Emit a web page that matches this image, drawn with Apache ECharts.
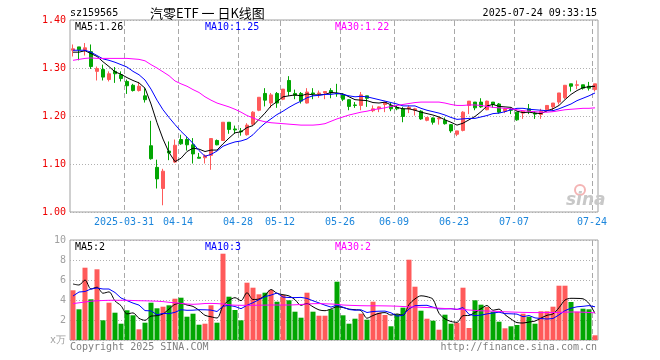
<!DOCTYPE html>
<html><head><meta charset="utf-8">
<script src="https://cdn.jsdelivr.net/npm/echarts@6/dist/echarts.min.js"></script>
<style>html,body{margin:0;padding:0;background:#fff}#c{width:660px;height:360px}</style>
</head><body><div id="c"></div>
<script>
const dates = ['2025-03-18','2025-03-19','2025-03-20','2025-03-21','2025-03-24','2025-03-25','2025-03-26','2025-03-27','2025-03-28','2025-03-31',
'2025-04-01','2025-04-02','2025-04-03','2025-04-07','2025-04-08','2025-04-09','2025-04-10','2025-04-11','2025-04-14','2025-04-15','2025-04-16','2025-04-17','2025-04-18','2025-04-21','2025-04-22','2025-04-23','2025-04-24','2025-04-25','2025-04-28','2025-04-29','2025-04-30',
'2025-05-06','2025-05-07','2025-05-08','2025-05-09','2025-05-12','2025-05-13','2025-05-14','2025-05-15','2025-05-16','2025-05-19','2025-05-20','2025-05-21','2025-05-22','2025-05-23','2025-05-26','2025-05-27','2025-05-28','2025-05-29','2025-05-30',
'2025-06-03','2025-06-04','2025-06-05','2025-06-06','2025-06-09','2025-06-10','2025-06-11','2025-06-12','2025-06-13','2025-06-16','2025-06-17','2025-06-18','2025-06-19','2025-06-20','2025-06-23','2025-06-24','2025-06-25','2025-06-26','2025-06-27','2025-06-30',
'2025-07-01','2025-07-02','2025-07-03','2025-07-04','2025-07-07','2025-07-08','2025-07-09','2025-07-10','2025-07-11','2025-07-14','2025-07-15','2025-07-16','2025-07-17','2025-07-18','2025-07-21','2025-07-22','2025-07-23','2025-07-24'];
const tickDates = ['2025-03-31','2025-04-14','2025-04-28','2025-05-12','2025-05-26','2025-06-09','2025-06-23','2025-07-07','2025-07-24'];
const tickLabels = ['2025-03-31','04-14','04-28','05-12','05-26','06-09','06-23','07-07','07-24'];

const open = [1.337,1.344,1.337,1.334,1.293,1.297,1.276,1.293,1.286,1.272,1.264,1.253,1.242,1.138,1.093,1.049,1.127,1.104,1.151,1.151,1.140,1.114,1.113,1.118,1.149,1.149,1.187,1.173,1.169,1.161,1.183,1.212,1.247,1.227,1.247,1.235,1.274,1.247,1.247,1.227,1.248,1.246,1.248,1.253,1.247,1.244,1.234,1.223,1.222,1.242,1.211,1.215,1.224,1.222,1.218,1.215,1.215,1.212,1.210,1.191,1.196,1.194,1.191,1.182,1.162,1.170,1.222,1.229,1.229,1.213,1.229,1.225,1.210,1.214,1.208,1.206,1.215,1.206,1.203,1.213,1.219,1.229,1.238,1.267,1.264,1.265,1.262,1.255];
const close = [1.340,1.338,1.342,1.303,1.299,1.281,1.288,1.288,1.278,1.263,1.253,1.262,1.234,1.111,1.069,1.085,1.123,1.139,1.142,1.140,1.121,1.112,1.117,1.153,1.140,1.187,1.172,1.171,1.167,1.181,1.208,1.239,1.233,1.244,1.227,1.256,1.251,1.243,1.231,1.250,1.246,1.248,1.251,1.248,1.246,1.235,1.220,1.222,1.244,1.237,1.215,1.219,1.228,1.215,1.215,1.199,1.218,1.215,1.194,1.197,1.187,1.196,1.184,1.169,1.169,1.208,1.231,1.217,1.219,1.231,1.224,1.208,1.215,1.212,1.192,1.210,1.210,1.204,1.210,1.222,1.227,1.248,1.264,1.262,1.265,1.258,1.258,1.267];
const low = [1.324,1.316,1.326,1.298,1.274,1.274,1.272,1.269,1.272,1.246,1.251,1.251,1.228,1.109,1.049,1.014,1.108,1.102,1.140,1.128,1.101,1.112,1.101,1.088,1.139,1.149,1.163,1.163,1.159,1.159,1.180,1.210,1.220,1.217,1.217,1.233,1.242,1.235,1.226,1.226,1.235,1.238,1.235,1.237,1.240,1.231,1.212,1.217,1.212,1.219,1.208,1.208,1.208,1.210,1.212,1.187,1.206,1.201,1.192,1.189,1.182,1.182,1.182,1.165,1.158,1.168,1.204,1.212,1.217,1.212,1.217,1.205,1.206,1.204,1.190,1.194,1.204,1.194,1.194,1.208,1.210,1.224,1.235,1.251,1.256,1.255,1.253,1.251];
const high = [1.349,1.344,1.352,1.349,1.303,1.307,1.293,1.302,1.293,1.276,1.267,1.271,1.258,1.190,1.109,1.090,1.147,1.151,1.161,1.156,1.154,1.123,1.120,1.154,1.151,1.187,1.187,1.180,1.175,1.185,1.210,1.239,1.258,1.248,1.250,1.256,1.283,1.255,1.250,1.258,1.258,1.253,1.251,1.258,1.267,1.247,1.235,1.229,1.250,1.242,1.222,1.220,1.228,1.227,1.222,1.219,1.222,1.217,1.212,1.197,1.197,1.198,1.197,1.183,1.169,1.210,1.231,1.229,1.237,1.232,1.229,1.227,1.217,1.217,1.208,1.211,1.225,1.210,1.215,1.222,1.227,1.248,1.264,1.267,1.274,1.265,1.271,1.267];

const ma5 = [1.333,1.333,1.336,1.330,1.324,1.313,1.303,1.292,1.287,1.280,1.274,1.269,1.258,1.225,1.186,1.152,1.124,1.105,1.112,1.126,1.133,1.131,1.126,1.129,1.129,1.142,1.154,1.165,1.167,1.176,1.180,1.193,1.206,1.221,1.230,1.240,1.242,1.244,1.242,1.246,1.244,1.244,1.245,1.249,1.248,1.246,1.240,1.234,1.233,1.232,1.228,1.227,1.229,1.223,1.218,1.215,1.215,1.212,1.208,1.205,1.202,1.198,1.192,1.187,1.181,1.185,1.192,1.199,1.209,1.221,1.224,1.220,1.219,1.218,1.210,1.207,1.208,1.206,1.205,1.211,1.215,1.222,1.234,1.245,1.253,1.259,1.261,1.262];
const ma10 = [1.337,1.337,1.337,1.333,1.326,1.319,1.316,1.312,1.307,1.302,1.293,1.286,1.275,1.256,1.233,1.213,1.197,1.182,1.168,1.156,1.143,1.128,1.116,1.120,1.127,1.137,1.142,1.146,1.148,1.152,1.161,1.174,1.185,1.194,1.203,1.210,1.218,1.225,1.231,1.238,1.242,1.243,1.245,1.245,1.247,1.245,1.242,1.240,1.241,1.240,1.237,1.234,1.231,1.228,1.225,1.221,1.221,1.221,1.216,1.212,1.209,1.206,1.202,1.197,1.193,1.194,1.195,1.195,1.198,1.201,1.205,1.206,1.209,1.213,1.216,1.216,1.214,1.213,1.212,1.211,1.211,1.215,1.220,1.225,1.232,1.237,1.242,1.248];
const ma30 = [1.316,1.318,1.320,1.321,1.320,1.320,1.320,1.320,1.320,1.320,1.319,1.318,1.315,1.307,1.300,1.292,1.284,1.273,1.267,1.262,1.255,1.249,1.240,1.233,1.227,1.223,1.219,1.214,1.208,1.201,1.196,1.191,1.188,1.186,1.185,1.184,1.183,1.182,1.181,1.181,1.181,1.182,1.184,1.189,1.194,1.198,1.202,1.205,1.208,1.210,1.213,1.215,1.217,1.220,1.222,1.224,1.226,1.228,1.229,1.229,1.229,1.229,1.227,1.224,1.222,1.222,1.223,1.223,1.222,1.220,1.218,1.217,1.216,1.215,1.213,1.211,1.210,1.209,1.208,1.208,1.209,1.211,1.213,1.214,1.215,1.216,1.216,1.217];

const volume = [4.97,3.07,7.23,4.07,7.07,1.97,3.73,2.73,1.63,2.97,2.47,1.07,1.73,3.73,3.17,3.33,3.47,4.13,4.23,2.33,2.63,1.53,1.63,3.47,1.73,8.63,4.33,3.00,1.97,5.73,5.23,4.57,4.73,5.00,3.83,4.50,3.97,2.83,2.23,4.73,2.83,2.43,2.43,3.07,5.83,2.47,1.63,2.13,2.63,2.03,3.83,2.73,2.50,1.37,2.57,3.23,8.03,5.33,2.93,2.13,1.93,1.03,2.53,1.63,1.73,5.23,1.20,3.97,3.53,3.30,2.83,1.83,1.17,1.37,1.50,2.63,2.33,1.63,2.87,2.87,3.33,5.43,5.43,3.80,2.83,3.13,3.07,0.47];
const volMa5 = [5.6,5.5,6.0,5.1,5.28,4.68,4.81,3.91,3.43,2.61,2.71,2.17,1.97,2.39,2.43,2.61,3.09,3.57,3.67,3.50,3.36,2.97,2.47,2.32,2.20,3.40,3.96,4.23,3.93,4.73,4.05,4.10,4.45,5.05,4.67,4.53,4.41,4.03,3.47,3.65,3.32,3.01,2.93,3.10,3.32,3.25,3.09,3.03,2.94,2.18,2.45,2.67,2.74,2.49,2.60,2.48,3.54,4.11,4.42,4.33,4.07,2.67,2.11,1.85,1.77,2.43,2.46,2.75,3.13,3.45,2.97,3.09,2.53,2.10,1.74,1.70,1.80,1.89,2.19,2.47,2.61,3.23,3.99,4.17,4.16,4.12,3.65,2.66];
const volMa10 = [4.4,4.8,4.85,5.1,5.2,5.1,5.1,4.75,4.2,3.94,3.69,3.49,2.94,2.91,2.52,2.66,2.63,2.77,3.03,2.97,2.98,3.03,3.02,2.99,2.85,3.38,3.46,3.35,3.13,3.47,3.73,4.03,4.34,4.49,4.70,4.29,4.25,4.24,4.26,4.16,3.92,3.71,3.48,3.29,3.49,3.28,3.05,2.98,3.02,2.75,2.85,2.88,2.89,2.72,2.39,2.47,3.11,3.43,3.46,3.47,3.28,3.11,3.11,3.13,3.05,3.25,2.57,2.43,2.49,2.61,2.70,2.78,2.64,2.62,2.59,2.33,2.45,2.21,2.15,2.10,2.15,2.51,2.94,3.18,3.32,3.37,3.44,3.32];
const volMa30 = [3.64,3.72,3.80,3.88,3.92,3.95,3.97,3.97,3.97,3.97,3.95,3.93,3.92,3.90,3.88,3.84,3.77,3.72,3.67,3.60,3.57,3.60,3.65,3.66,3.64,3.60,3.52,3.48,3.47,3.47,3.47,3.48,3.49,3.50,3.50,3.50,3.50,3.52,3.55,3.60,3.63,3.64,3.62,3.60,3.57,3.50,3.47,3.45,3.43,3.42,3.42,3.42,3.41,3.40,3.38,3.35,3.32,3.30,3.27,3.25,3.22,3.18,3.15,3.12,3.08,3.05,3.00,2.96,2.92,2.90,2.88,2.85,2.82,2.80,2.78,2.76,2.75,2.74,2.74,2.74,2.75,2.76,2.78,2.80,2.80,2.78,2.75,2.72];

const priceAxis = {min: 1.0, max: 1.4, step: 0.1};
const volAxis = {min: 0, max: 10, step: 2};
const legendPrice = ['MA5:1.26', 'MA10:1.25', 'MA30:1.22'];
const legendVol = ['MA5:2', 'MA10:3', 'MA30:2'];

const UP = '#ff5a5a', DOWN = '#02a602';
const MONO = "'DejaVu Sans Mono', monospace";
const tickIdx = tickDates.map(d => dates.indexOf(d));
const tickSet = new Set(tickIdx);
const labelMap = {};
tickDates.forEach((d, i) => labelMap[d] = tickLabels[i]);

const chart = echarts.init(document.getElementById('c'), null, {renderer: 'canvas'});
const hline = {show: true, lineStyle: {color: '#b0b0b0', type: [1, 2], width: 1}};
const lineS = (name, data, color, xi, smooth) => ({
  name, type: 'line', data, xAxisIndex: xi, yAxisIndex: xi, symbol: 'none', smooth: smooth || false,
  lineStyle: {color, width: 1}, z: 5, silent: true
});
const txt = (text, x, y, fill, align, font) => ({
  type: 'text', x, y, silent: true, z: 10,
  style: {text, fill, font: font || ('10px ' + MONO), align: align || 'left', verticalAlign: 'middle'}
});

const baseGraphic = [
  txt('sz159565', 70, 13, '#000'),
  txt('汽零ETF 一 日K线图', 150, 13, '#000', 'left', "13px 'Noto Sans CJK SC'"),
  txt('2025-07-24 09:33:15', 597, 13, '#000', 'right'),
  txt(legendPrice[0], 75, 27, '#000'),
  txt(legendPrice[1], 205, 27, '#0000ff'),
  txt(legendPrice[2], 335, 27, '#ff00ff'),
  txt(legendVol[0], 75, 247, '#000'),
  txt(legendVol[1], 205, 247, '#0000ff'),
  txt(legendVol[2], 335, 247, '#ff00ff'),
  txt('Copyright 2025 SINA.COM', 70, 347, '#808080'),
  txt('http://finance.sina.com.cn', 597, 347, '#808080', 'right'),
  {type: 'circle', shape: {cx: 580, cy: 190, r: 5}, silent: true, style: {fill: 'none', stroke: '#f4b4b4', lineWidth: 2}},
  txt('sina', 566, 201, '#c8c8c8', 'left', "italic bold 17px 'DejaVu Sans'")
];

chart.setOption({
  animation: false,
  backgroundColor: '#fff',
  grid: [
    {left: 70, top: 20, width: 528, height: 192, show: true, backgroundColor: 'transparent', borderColor: '#a0a0a0', borderWidth: 1},
    {left: 70, top: 240, width: 528, height: 100, show: true, backgroundColor: 'transparent', borderColor: '#a0a0a0', borderWidth: 1}
  ],
  xAxis: [
    {type: 'category', gridIndex: 0, data: dates, boundaryGap: true,
     axisLine: {show: false}, axisTick: {show: false}, splitLine: {show: false},
     axisLabel: {show: true, interval: (i) => tickSet.has(i), formatter: (v) => labelMap[v] || '',
       color: '#1c86dc', fontFamily: MONO, fontSize: 10, margin: 5, padding: [0, 6, 0, 0]}},
    {type: 'category', gridIndex: 1, data: dates, boundaryGap: true,
     axisLine: {show: false}, axisTick: {show: false}, splitLine: {show: false}, axisLabel: {show: false}}
  ],
  yAxis: [
    {type: 'value', gridIndex: 0, min: priceAxis.min, max: priceAxis.max, interval: priceAxis.step,
     axisLine: {show: false}, axisTick: {show: false}, splitLine: hline,
     axisLabel: {color: '#ee0000', fontFamily: MONO, fontSize: 10, margin: 4, formatter: (v) => v.toFixed(2)}},
    {type: 'value', gridIndex: 1, min: volAxis.min, max: volAxis.max, interval: volAxis.step,
     axisLine: {show: false}, axisTick: {show: false}, splitLine: hline,
     axisLabel: {color: '#a0a0a0', fontFamily: MONO, fontSize: 10, margin: 4, formatter: (v) => v === 0 ? 'x万' : String(v)}}
  ],
  series: [
    {type: 'candlestick', xAxisIndex: 0, yAxisIndex: 0, barWidth: 4, silent: true, z: 3,
     data: dates.map((d, i) => [open[i], close[i], low[i], high[i]]),
     itemStyle: {color: UP, color0: DOWN, borderColor: UP, borderColor0: DOWN, borderWidth: 1}},
    lineS('MA5', ma5, '#000000', 0),
    lineS('MA10', ma10, '#0000ff', 0),
    lineS('MA30', ma30, '#ff00ff', 0),
    {type: 'bar', xAxisIndex: 1, yAxisIndex: 1, barWidth: 5, silent: true, z: 3,
     data: volume.map((v, i) => ({value: v, itemStyle: {color: close[i] >= open[i] ? UP : DOWN}}))},
    lineS('VMA5', volMa5, '#000000', 1, 0.3),
    lineS('VMA10', volMa10, '#0000ff', 1),
    lineS('VMA30', volMa30, '#ff00ff', 1)
  ],
  graphic: baseGraphic
});

// vertical dashed guides at the left edge of each labelled trading day, positioned via the axis scale,
// drawn as short dash segments
const guides = [];
[[0, priceAxis], [1, volAxis]].forEach(([gi, ax]) => {
  const yTop = chart.convertToPixel({yAxisIndex: gi}, ax.max);
  const yBot = chart.convertToPixel({yAxisIndex: gi}, ax.min);
  const p0 = chart.convertToPixel({xAxisIndex: gi}, 0);
  const p1 = chart.convertToPixel({xAxisIndex: gi}, 1);
  const bw = p1 - p0;
  tickIdx.forEach(i => {
    const c = chart.convertToPixel({xAxisIndex: gi}, i);
    const x = Math.round(c - bw / 2);
    for (let y = yTop + 1; y < yBot - 1; y += 8) {
      guides.push({type: 'rect', silent: true, z: 2,
        shape: {x: x, y: y, width: 1, height: Math.min(5, yBot - 1 - y)},
        style: {fill: '#a8a8a8'}});
    }
  });
});
chart.setOption({graphic: baseGraphic.concat(guides)});
</script></body></html>
